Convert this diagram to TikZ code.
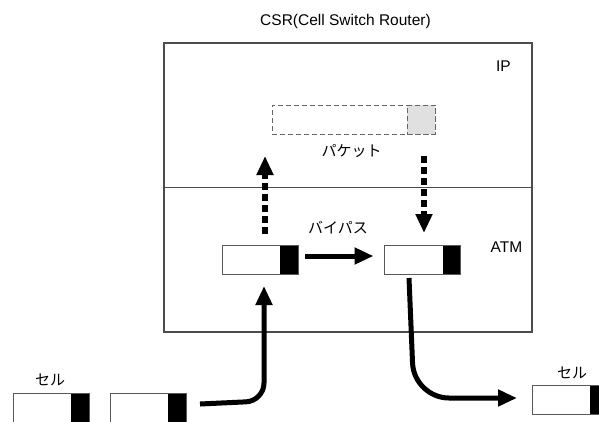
\documentclass[tikz,border=0pt]{standalone}
\usepackage{fontspec}
\setmainfont{Liberation Sans}
\newfontfamily\jp{Noto Sans CJK JP}
\usetikzlibrary{arrows.meta}
\begin{document}
\begin{tikzpicture}[x=1pt,y=-1pt,
  lbl/.style={font=\fontsize{15.5}{18}\selectfont, inner sep=0pt},
  jlbl/.style={font=\fontsize{15}{18}\selectfont\jp, inner sep=0pt},
  cellbox/.style={draw=black!65, line width=1pt, fill=white, minimum width=76pt, minimum height=29pt, inner sep=0pt, outer sep=0pt,
    path picture={\fill[black] ([xshift=-18pt]path picture bounding box.north east) rectangle (path picture bounding box.south east);}},
  thickarrow/.style={line width=5pt, -{Triangle[length=19pt,width=16pt]}},
  dasharrow/.style={line width=6pt, dash pattern=on 7pt off 4pt, -{Triangle[length=19pt,width=16pt]}},
  pktdash/.style={draw=black!60, line width=0.9pt, dash pattern=on 5pt off 3pt, inner sep=0pt, outer sep=0pt}
  ]
\useasboundingbox (0,0) rectangle (599,421);
\clip (0,0) rectangle (599,421);
\fill[white] (0,0) rectangle (599,421);

% main CSR box
\node[draw=black!70, line width=1.2pt, minimum width=368pt, minimum height=289pt, inner sep=0pt] (csr) at (348,187.5) {};
\coordinate (div) at (0,187);
\draw[black!70, line width=1pt] (csr.west |- div) -- (csr.east |- div);

% labels
\node[lbl, anchor=base] (title) at (345.5,25) {CSR(Cell Switch Router)};
\node[lbl, anchor=base] (ip) at (503.5,71) {IP};
\node[lbl, anchor=base] (atm) at (506.5,252) {ATM};
\node[jlbl] (pktlbl) at (351.5,150.5) {パケット};
\node[jlbl] (bplbl) at (338,228) {バイパス};
\node[jlbl] (cellL) at (50,379.5) {セル};
\node[jlbl] (cellR) at (572,373) {セル};

% packet
\node[pktdash, minimum width=163pt, minimum height=29pt] (packet) at (353.5,119.5) {};
\node[pktdash, fill=black!12, minimum width=28pt, minimum height=29pt, anchor=east] (pkthdr) at (packet.east) {};

% cells
\node[cellbox] (cellA) at (260,259.5) {};
\node[cellbox] (cellB) at (422.5,259.5) {};
\node[cellbox] (in1) at (51,407.5) {};
\node[cellbox] (in2) at (148,407.5) {};
\node[cellbox] (out) at (570,400) {};

% dashed arrows
\coordinate (upEnd) at (265,156);
\draw[dasharrow, shorten <=11pt] (cellA.north -| upEnd) -- (upEnd);
\coordinate (downStart) at (424,156);
\draw[dasharrow, shorten >=12pt] (downStart) -- (downStart |- cellB.north);

% bypass
\draw[thickarrow, shorten <=7pt, shorten >=11pt] ([yshift=3.5pt]cellA.east) -- ([yshift=3.5pt]cellB.west);

% input curve
\coordinate (inStart) at (200,404);
\coordinate (inCorner) at (264,401);
\draw[thickarrow, rounded corners=18pt, shorten >=12pt] (inStart) -- (inCorner) -- (inCorner |- cellA.south);

% output curve
\coordinate (outStart) at (409,278);
\coordinate (outCorner) at (414,398);
\draw[thickarrow, rounded corners=35pt, shorten >=15pt] (outStart) -- (outCorner) -- (outCorner -| out.west);
\end{tikzpicture}
\end{document}
